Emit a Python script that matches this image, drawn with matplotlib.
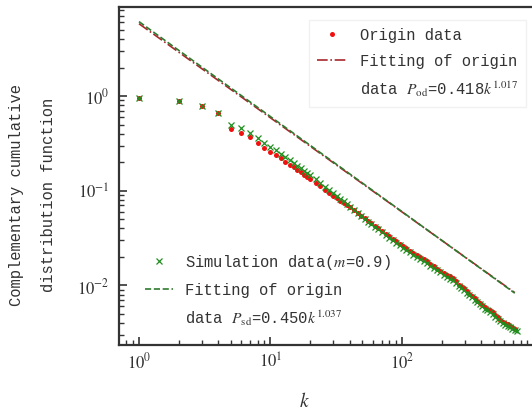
import math
import matplotlib
matplotlib.use("Agg")
import matplotlib.pyplot as plt
from matplotlib.lines import Line2D
from matplotlib.ticker import FixedLocator, LogLocator, FuncFormatter, NullFormatter

plt.rcParams['mathtext.fontset'] = 'stix'
plt.rcParams['font.family'] = ['Liberation Mono', 'DejaVu Sans']

# degree k
k = [1, 2, 3, 4, 5, 6, 7, 8, 9, 10, 11, 12, 13, 14, 15, 16, 17, 18, 19, 20,
     22, 24, 26, 28, 30, 32, 34, 36, 38, 40, 43, 46, 49, 52, 55, 58, 62, 66, 70,
     75, 80, 85, 90, 96, 102, 108, 115, 122, 130, 138, 146, 155, 164, 174, 185,
     196, 208, 220, 233, 245, 258, 270, 283, 296, 310, 325, 340, 356, 372, 390,
     408, 426, 446, 466, 488, 510, 533, 557, 582, 608, 635, 663, 690, 720]

# origin data (red dots)
p_origin = [0.946, 0.89, 0.784, 0.656, 0.445, 0.41, 0.366, 0.321, 0.284, 0.258,
            0.238, 0.22, 0.202, 0.187, 0.177, 0.166, 0.157, 0.148, 0.141, 0.134,
            0.121, 0.111, 0.102, 0.095, 0.089, 0.083, 0.078, 0.074, 0.070, 0.067,
            0.062, 0.058, 0.054, 0.051, 0.048, 0.0455, 0.0425, 0.040, 0.0377,
            0.0352, 0.0331, 0.0311, 0.0294, 0.0276, 0.0258, 0.0246, 0.0233, 0.0221,
            0.0209, 0.0198, 0.0189, 0.0180, 0.0170, 0.0160, 0.0151, 0.0142, 0.0135,
            0.0130, 0.0125, 0.0120, 0.0112, 0.0102, 0.0098, 0.0093, 0.0087, 0.0081,
            0.0077, 0.0073, 0.0069, 0.0066, 0.0062, 0.0059, 0.0057, 0.0055, 0.0052,
            0.0049, 0.0046, 0.0043, 0.0041, 0.0040, 0.0039, 0.0037, 0.0036, 0.0035]

# simulation data m=0.9 (green crosses)
k_sim = k + [745]
p_sim = [0.946, 0.89, 0.784, 0.656, 0.498, 0.456, 0.407, 0.36, 0.321, 0.292,
         0.268, 0.247, 0.228, 0.211, 0.197, 0.184, 0.173, 0.163, 0.154, 0.146,
         0.132, 0.120, 0.110, 0.101, 0.094, 0.087, 0.082, 0.077, 0.072, 0.068,
         0.063, 0.058, 0.054, 0.050, 0.047, 0.0445, 0.0415, 0.039, 0.0365,
         0.034, 0.032, 0.0300, 0.0283, 0.0265, 0.0250, 0.0237, 0.0224, 0.0212,
         0.0200, 0.0190, 0.0181, 0.0171, 0.0162, 0.0153, 0.0145, 0.0138, 0.0130,
         0.0124, 0.0118, 0.0113, 0.0106, 0.0099, 0.0094, 0.0089, 0.0084, 0.0079,
         0.0075, 0.0071, 0.0067, 0.0063, 0.0060, 0.0057, 0.0055, 0.0052, 0.0050,
         0.0047, 0.0044, 0.0042, 0.0040, 0.0038, 0.0037, 0.0036, 0.0035, 0.0034,
         0.0033]

# fitted lines (end points, straight on log-log)
fit_k = [1, 720]
fit_origin = [5.8, 0.0084]
fit_sim = [6.1, 0.0083]

fig = plt.figure(figsize=(5.32, 4.13), dpi=100)
ax = fig.add_axes([0.2237, 0.1654, 0.7763, 0.8176])

red = '#f01010'
darkred = '#a8282c'
green = '#1f8f1f'
dgreen = '#2f7a2f'

ax.plot(k, p_origin, 'o', color=red, ms=3.6, mew=0, zorder=3)
ax.plot(k_sim, p_sim, 'x', color=green, ms=4.5, mew=0.9, zorder=4)
ax.plot(fit_k, fit_origin, '-.', color=darkred, lw=1.2, zorder=2)
ax.plot(fit_k, fit_sim, '--', color=dgreen, lw=1.2, zorder=2)

ax.set_xscale('log')
ax.set_yscale('log')
ax.set_xlim(0.705, 974)
ax.set_ylim(0.00237, 8.7)

ax.xaxis.set_major_locator(FixedLocator([1, 10, 100]))
ax.yaxis.set_major_locator(FixedLocator([0.01, 0.1, 1]))
ax.xaxis.set_minor_locator(LogLocator(base=10, subs=range(2, 10), numticks=20))
ax.yaxis.set_minor_locator(LogLocator(base=10, subs=range(2, 10), numticks=20))
ax.xaxis.set_minor_formatter(NullFormatter())
ax.yaxis.set_minor_formatter(NullFormatter())
fmt = FuncFormatter(lambda v, p: r'$10^{%d}$' % round(math.log10(v)))
ax.xaxis.set_major_formatter(fmt)
ax.yaxis.set_major_formatter(fmt)

ax.tick_params(which='both', direction='in', top=False, right=False,
               colors='#333333', labelcolor='#333333', labelsize=12)
ax.tick_params(which='major', length=6, width=1.2)
ax.tick_params(which='minor', length=3.5, width=1.0)
ax.tick_params(axis='x', pad=5)
ax.tick_params(axis='y', pad=7)
for s in ['left', 'bottom', 'top']:
    ax.spines[s].set_color('#333333')
    ax.spines[s].set_linewidth(1.6)
ax.spines['right'].set_visible(False)

ax.set_xlabel('$k$', fontsize=14, color='#333333')
ax.xaxis.set_label_coords(0.45, -0.14)
ax.set_ylabel('Complementary cumulative\ndistribution function',
              fontsize=11.2, color='#333333', linespacing=2.4)
ax.yaxis.set_label_coords(-0.153, 0.444)

# top right legend
h1 = [Line2D([], [], ls='', marker='o', color=red, ms=3.6, mew=0),
      Line2D([], [], ls='-.', color=darkred, lw=1.2),
      Line2D([], [], ls='', marker='')]
l1 = ['Origin data', 'Fitting of origin', r'data $P_{\rm od}$=0.418$k^{1.017}$']
leg1 = ax.legend(h1, l1, loc='upper left', bbox_to_anchor=(0.441, 0.985),
                 fontsize=11.2, handlelength=2.0, handletextpad=0.8,
                 labelspacing=0.71, frameon=True, fancybox=False,
                 edgecolor='#eeeeee', borderpad=0.5)
for t in leg1.get_texts():
    t.set_color('#333333')
ax.add_artist(leg1)

# bottom left legend
h2 = [Line2D([], [], ls='', marker='x', color=green, ms=4.5, mew=0.9),
      Line2D([], [], ls='--', color=dgreen, lw=1.2),
      Line2D([], [], ls='', marker='')]
l2 = ['Simulation data($m$=0.9)', 'Fitting of origin', r'data $P_{\rm sd}$=0.450$k^{1.037}$']
leg2 = ax.legend(h2, l2, loc='upper left', bbox_to_anchor=(0.029, 0.314),
                 fontsize=11.2, handlelength=1.8, handletextpad=0.77,
                 labelspacing=0.71, frameon=False)
for t in leg2.get_texts():
    t.set_color('#333333')

fig.savefig('out.png', dpi=100)
